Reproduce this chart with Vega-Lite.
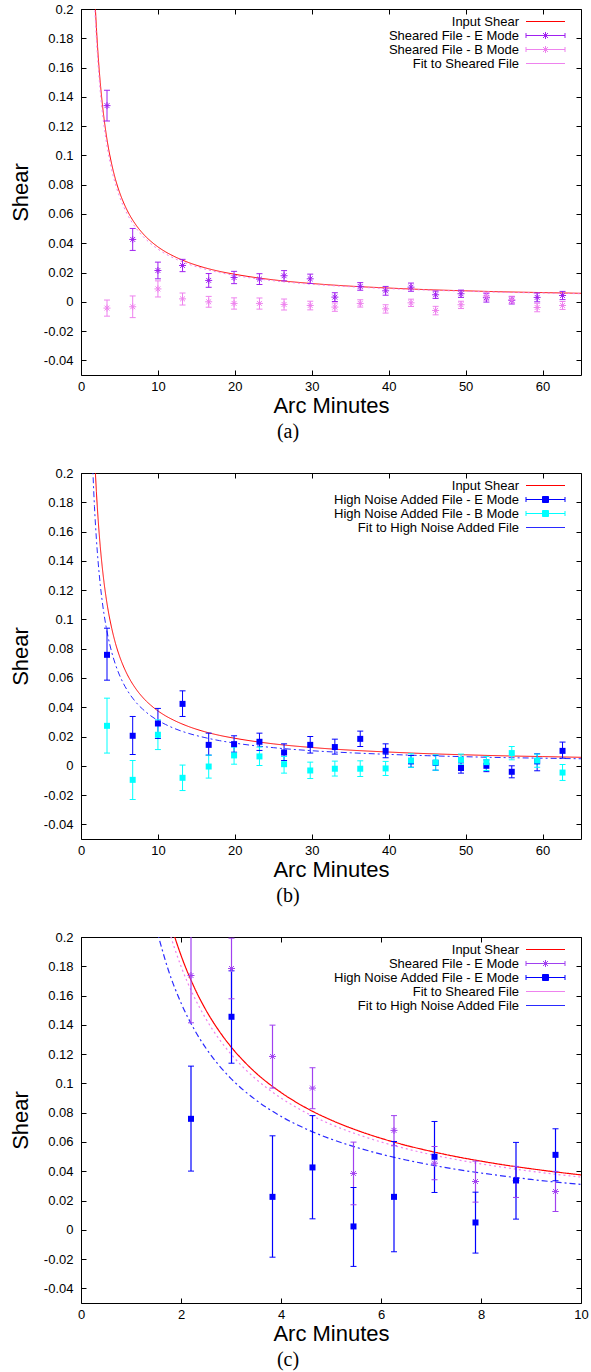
{
"$schema": "https://vega.github.io/schema/vega-lite/v6.json",
"padding": {"left": 8, "top": 2, "right": 5, "bottom": 5},
"spacing": 98,
"bounds": "flush",
"config": {
 "font": "Liberation Sans",
 "view": {"stroke": "#000", "strokeWidth": 1},
 "axis": {"grid": false, "domain": false, "ticks": true, "tickSize": -5, "tickColor": "#000", "tickWidth": 1, "labelFont": "Liberation Sans", "labelFontSize": 13, "labelColor": "#000", "labelFlush": false, "labelOverlap": false, "titleFont": "Liberation Sans", "titleFontSize": 22, "titleFontWeight": "normal", "titleColor": "#000"},
 "title": {"font": "Liberation Serif", "fontSize": 20, "fontWeight": "normal", "color": "#000"}
},
"datasets": {
 "curves": [
  {"x":1.5,"Input Shear":0.25,"Fit to Sheared File":0.24,"Fit to High Noise Added File":0.2067},
  {"x":1.75,"Input Shear":0.2143,"Fit to Sheared File":0.2057,"Fit to High Noise Added File":0.1771},
  {"x":2,"Input Shear":0.1875,"Fit to Sheared File":0.18,"Fit to High Noise Added File":0.155},
  {"x":2.25,"Input Shear":0.1667,"Fit to Sheared File":0.16,"Fit to High Noise Added File":0.1378},
  {"x":2.5,"Input Shear":0.15,"Fit to Sheared File":0.144,"Fit to High Noise Added File":0.124},
  {"x":2.75,"Input Shear":0.1364,"Fit to Sheared File":0.1309,"Fit to High Noise Added File":0.1127},
  {"x":3,"Input Shear":0.125,"Fit to Sheared File":0.12,"Fit to High Noise Added File":0.1033},
  {"x":3.25,"Input Shear":0.1154,"Fit to Sheared File":0.1108,"Fit to High Noise Added File":0.0954},
  {"x":3.5,"Input Shear":0.1071,"Fit to Sheared File":0.1029,"Fit to High Noise Added File":0.0886},
  {"x":4,"Input Shear":0.0938,"Fit to Sheared File":0.09,"Fit to High Noise Added File":0.0775},
  {"x":4.5,"Input Shear":0.0833,"Fit to Sheared File":0.08,"Fit to High Noise Added File":0.0689},
  {"x":5,"Input Shear":0.075,"Fit to Sheared File":0.072,"Fit to High Noise Added File":0.062},
  {"x":5.5,"Input Shear":0.0682,"Fit to Sheared File":0.0655,"Fit to High Noise Added File":0.0564},
  {"x":6,"Input Shear":0.0625,"Fit to Sheared File":0.06,"Fit to High Noise Added File":0.0517},
  {"x":6.5,"Input Shear":0.0577,"Fit to Sheared File":0.0554,"Fit to High Noise Added File":0.0477},
  {"x":7,"Input Shear":0.0536,"Fit to Sheared File":0.0514,"Fit to High Noise Added File":0.0443},
  {"x":7.5,"Input Shear":0.05,"Fit to Sheared File":0.048,"Fit to High Noise Added File":0.0413},
  {"x":8,"Input Shear":0.0469,"Fit to Sheared File":0.045,"Fit to High Noise Added File":0.0388},
  {"x":8.5,"Input Shear":0.0441,"Fit to Sheared File":0.0424,"Fit to High Noise Added File":0.0365},
  {"x":9,"Input Shear":0.0417,"Fit to Sheared File":0.04,"Fit to High Noise Added File":0.0344},
  {"x":9.5,"Input Shear":0.0395,"Fit to Sheared File":0.0379,"Fit to High Noise Added File":0.0326},
  {"x":10,"Input Shear":0.0375,"Fit to Sheared File":0.036,"Fit to High Noise Added File":0.031},
  {"x":11,"Input Shear":0.0341,"Fit to Sheared File":0.0327,"Fit to High Noise Added File":0.0282},
  {"x":12,"Input Shear":0.0313,"Fit to Sheared File":0.03,"Fit to High Noise Added File":0.0258},
  {"x":14,"Input Shear":0.0268,"Fit to Sheared File":0.0257,"Fit to High Noise Added File":0.0221},
  {"x":16,"Input Shear":0.0234,"Fit to Sheared File":0.0225,"Fit to High Noise Added File":0.0194},
  {"x":18,"Input Shear":0.0208,"Fit to Sheared File":0.02,"Fit to High Noise Added File":0.0172},
  {"x":20,"Input Shear":0.0188,"Fit to Sheared File":0.018,"Fit to High Noise Added File":0.0155},
  {"x":25,"Input Shear":0.015,"Fit to Sheared File":0.0144,"Fit to High Noise Added File":0.0124},
  {"x":30,"Input Shear":0.0125,"Fit to Sheared File":0.012,"Fit to High Noise Added File":0.0103},
  {"x":35,"Input Shear":0.0107,"Fit to Sheared File":0.0103,"Fit to High Noise Added File":0.0089},
  {"x":40,"Input Shear":0.0094,"Fit to Sheared File":0.009,"Fit to High Noise Added File":0.0078},
  {"x":45,"Input Shear":0.0083,"Fit to Sheared File":0.008,"Fit to High Noise Added File":0.0069},
  {"x":50,"Input Shear":0.0075,"Fit to Sheared File":0.0072,"Fit to High Noise Added File":0.0062},
  {"x":55,"Input Shear":0.0068,"Fit to Sheared File":0.0065,"Fit to High Noise Added File":0.0056},
  {"x":60,"Input Shear":0.0063,"Fit to Sheared File":0.006,"Fit to High Noise Added File":0.0052},
  {"x":65,"Input Shear":0.0058,"Fit to Sheared File":0.0055,"Fit to High Noise Added File":0.0048}
 ],
 "pts": [
  {"p":"a","s":"Sheared File - E Mode","x":3.38,"y":0.134,"lo":0.1235,"hi":0.1445},
  {"p":"a","s":"Sheared File - E Mode","x":6.72,"y":0.0426,"lo":0.0351,"hi":0.0501},
  {"p":"a","s":"Sheared File - E Mode","x":10.0,"y":0.0214,"lo":0.0157,"hi":0.0271},
  {"p":"a","s":"Sheared File - E Mode","x":13.2,"y":0.0248,"lo":0.0206,"hi":0.029},
  {"p":"a","s":"Sheared File - E Mode","x":16.6,"y":0.0146,"lo":0.0099,"hi":0.0193},
  {"p":"a","s":"Sheared File - E Mode","x":19.9,"y":0.0166,"lo":0.0124,"hi":0.0208},
  {"p":"a","s":"Sheared File - E Mode","x":23.2,"y":0.0155,"lo":0.0118,"hi":0.0192},
  {"p":"a","s":"Sheared File - E Mode","x":26.4,"y":0.0178,"lo":0.0143,"hi":0.0213},
  {"p":"a","s":"Sheared File - E Mode","x":29.8,"y":0.0157,"lo":0.0125,"hi":0.0189},
  {"p":"a","s":"Sheared File - E Mode","x":33.0,"y":0.0032,"lo":0.0002,"hi":0.0062},
  {"p":"a","s":"Sheared File - E Mode","x":36.3,"y":0.0105,"lo":0.0079,"hi":0.0131},
  {"p":"a","s":"Sheared File - E Mode","x":39.6,"y":0.0075,"lo":0.0045,"hi":0.0105},
  {"p":"a","s":"Sheared File - E Mode","x":42.9,"y":0.01,"lo":0.0072,"hi":0.0128},
  {"p":"a","s":"Sheared File - E Mode","x":46.1,"y":0.0048,"lo":0.0023,"hi":0.0073},
  {"p":"a","s":"Sheared File - E Mode","x":49.4,"y":0.0055,"lo":0.003,"hi":0.008},
  {"p":"a","s":"Sheared File - E Mode","x":52.7,"y":0.0028,"lo":-0.0002,"hi":0.0058},
  {"p":"a","s":"Sheared File - E Mode","x":56.0,"y":0.001,"lo":-0.0015,"hi":0.0035},
  {"p":"a","s":"Sheared File - E Mode","x":59.3,"y":0.003,"lo":0.0,"hi":0.006},
  {"p":"a","s":"Sheared File - E Mode","x":62.6,"y":0.0043,"lo":0.0015,"hi":0.0071},
  {"p":"a","s":"Sheared File - B Mode","x":3.38,"y":-0.0043,"lo":-0.0098,"hi":0.0012},
  {"p":"a","s":"Sheared File - B Mode","x":6.72,"y":-0.0034,"lo":-0.0108,"hi":0.004},
  {"p":"a","s":"Sheared File - B Mode","x":10.0,"y":0.0088,"lo":0.0033,"hi":0.0143},
  {"p":"a","s":"Sheared File - B Mode","x":13.2,"y":0.002,"lo":-0.0022,"hi":0.006},
  {"p":"a","s":"Sheared File - B Mode","x":16.6,"y":0.0,"lo":-0.0037,"hi":0.0037},
  {"p":"a","s":"Sheared File - B Mode","x":19.9,"y":-0.0011,"lo":-0.005,"hi":0.0027},
  {"p":"a","s":"Sheared File - B Mode","x":23.2,"y":-0.0011,"lo":-0.005,"hi":0.0026},
  {"p":"a","s":"Sheared File - B Mode","x":26.4,"y":-0.0018,"lo":-0.0056,"hi":0.0019},
  {"p":"a","s":"Sheared File - B Mode","x":29.8,"y":-0.0025,"lo":-0.0055,"hi":0.0004},
  {"p":"a","s":"Sheared File - B Mode","x":33.0,"y":-0.0036,"lo":-0.0065,"hi":-0.0008},
  {"p":"a","s":"Sheared File - B Mode","x":36.3,"y":-0.0011,"lo":-0.0036,"hi":0.0014},
  {"p":"a","s":"Sheared File - B Mode","x":39.6,"y":-0.0048,"lo":-0.0077,"hi":-0.002},
  {"p":"a","s":"Sheared File - B Mode","x":42.9,"y":-0.0007,"lo":-0.0032,"hi":0.0018},
  {"p":"a","s":"Sheared File - B Mode","x":46.1,"y":-0.0059,"lo":-0.0089,"hi":-0.0031},
  {"p":"a","s":"Sheared File - B Mode","x":49.4,"y":-0.002,"lo":-0.0046,"hi":0.0004},
  {"p":"a","s":"Sheared File - B Mode","x":52.7,"y":0.004,"lo":0.0012,"hi":0.0066},
  {"p":"a","s":"Sheared File - B Mode","x":56.0,"y":0.0014,"lo":-0.001,"hi":0.0038},
  {"p":"a","s":"Sheared File - B Mode","x":59.3,"y":-0.0039,"lo":-0.0068,"hi":-0.001},
  {"p":"a","s":"Sheared File - B Mode","x":62.6,"y":-0.0025,"lo":-0.0052,"hi":0.0002},
  {"p":"b","s":"High Noise Added File - E Mode","x":3.38,"y":0.0758,"lo":0.0585,"hi":0.094},
  {"p":"b","s":"High Noise Added File - E Mode","x":6.72,"y":0.0205,"lo":0.0077,"hi":0.0337},
  {"p":"b","s":"High Noise Added File - E Mode","x":10.0,"y":0.0289,"lo":0.0187,"hi":0.0392},
  {"p":"b","s":"High Noise Added File - E Mode","x":13.2,"y":0.0423,"lo":0.0337,"hi":0.0512},
  {"p":"b","s":"High Noise Added File - E Mode","x":16.6,"y":0.0143,"lo":0.0073,"hi":0.0223},
  {"p":"b","s":"High Noise Added File - E Mode","x":19.9,"y":0.0148,"lo":0.0093,"hi":0.0205},
  {"p":"b","s":"High Noise Added File - E Mode","x":23.2,"y":0.0164,"lo":0.0105,"hi":0.0223},
  {"p":"b","s":"High Noise Added File - E Mode","x":26.4,"y":0.0091,"lo":0.0036,"hi":0.015},
  {"p":"b","s":"High Noise Added File - E Mode","x":29.8,"y":0.0143,"lo":0.0087,"hi":0.02},
  {"p":"b","s":"High Noise Added File - E Mode","x":33.0,"y":0.0128,"lo":0.008,"hi":0.0182},
  {"p":"b","s":"High Noise Added File - E Mode","x":36.3,"y":0.0184,"lo":0.0132,"hi":0.0237},
  {"p":"b","s":"High Noise Added File - E Mode","x":39.6,"y":0.0102,"lo":0.0055,"hi":0.015},
  {"p":"b","s":"High Noise Added File - E Mode","x":42.9,"y":0.003,"lo":-0.001,"hi":0.007},
  {"p":"b","s":"High Noise Added File - E Mode","x":46.1,"y":0.002,"lo":-0.003,"hi":0.007},
  {"p":"b","s":"High Noise Added File - E Mode","x":49.4,"y":-0.0015,"lo":-0.005,"hi":0.002},
  {"p":"b","s":"High Noise Added File - E Mode","x":52.7,"y":0.0,"lo":-0.004,"hi":0.004},
  {"p":"b","s":"High Noise Added File - E Mode","x":56.0,"y":-0.0041,"lo":-0.0082,"hi":0.0},
  {"p":"b","s":"High Noise Added File - E Mode","x":59.3,"y":0.003,"lo":-0.0034,"hi":0.0082},
  {"p":"b","s":"High Noise Added File - E Mode","x":62.6,"y":0.0102,"lo":0.0052,"hi":0.0162},
  {"p":"b","s":"High Noise Added File - B Mode","x":3.38,"y":0.0273,"lo":0.0087,"hi":0.0462},
  {"p":"b","s":"High Noise Added File - B Mode","x":6.72,"y":-0.0096,"lo":-0.023,"hi":0.0036},
  {"p":"b","s":"High Noise Added File - B Mode","x":10.0,"y":0.0212,"lo":0.0111,"hi":0.0314},
  {"p":"b","s":"High Noise Added File - B Mode","x":13.2,"y":-0.0082,"lo":-0.0169,"hi":0.0005},
  {"p":"b","s":"High Noise Added File - B Mode","x":16.6,"y":-0.0005,"lo":-0.0084,"hi":0.0073},
  {"p":"b","s":"High Noise Added File - B Mode","x":19.9,"y":0.0071,"lo":0.0011,"hi":0.0128},
  {"p":"b","s":"High Noise Added File - B Mode","x":23.2,"y":0.0064,"lo":0.0002,"hi":0.0128},
  {"p":"b","s":"High Noise Added File - B Mode","x":26.4,"y":0.0011,"lo":-0.005,"hi":0.0064},
  {"p":"b","s":"High Noise Added File - B Mode","x":29.8,"y":-0.0032,"lo":-0.0087,"hi":0.0025},
  {"p":"b","s":"High Noise Added File - B Mode","x":33.0,"y":-0.002,"lo":-0.007,"hi":0.0032},
  {"p":"b","s":"High Noise Added File - B Mode","x":36.3,"y":-0.002,"lo":-0.0073,"hi":0.0034},
  {"p":"b","s":"High Noise Added File - B Mode","x":39.6,"y":-0.0018,"lo":-0.0066,"hi":0.003},
  {"p":"b","s":"High Noise Added File - B Mode","x":42.9,"y":0.0036,"lo":-0.0011,"hi":0.0082},
  {"p":"b","s":"High Noise Added File - B Mode","x":46.1,"y":0.0023,"lo":-0.003,"hi":0.0075},
  {"p":"b","s":"High Noise Added File - B Mode","x":49.4,"y":0.0041,"lo":0.0007,"hi":0.008},
  {"p":"b","s":"High Noise Added File - B Mode","x":52.7,"y":0.0025,"lo":-0.0032,"hi":0.0064},
  {"p":"b","s":"High Noise Added File - B Mode","x":56.0,"y":0.0087,"lo":0.0041,"hi":0.0132},
  {"p":"b","s":"High Noise Added File - B Mode","x":59.3,"y":0.0036,"lo":-0.001,"hi":0.008},
  {"p":"b","s":"High Noise Added File - B Mode","x":62.6,"y":-0.0046,"lo":-0.01,"hi":0.0009},
  {"p":"c","s":"Sheared File - E Mode","x":2.2,"y":0.1737,"lo":0.1414,"hi":0.206},
  {"p":"c","s":"Sheared File - E Mode","x":3.01,"y":0.1785,"lo":0.1578,"hi":0.1992},
  {"p":"c","s":"Sheared File - E Mode","x":3.83,"y":0.1184,"lo":0.0968,"hi":0.1398},
  {"p":"c","s":"Sheared File - E Mode","x":4.63,"y":0.0968,"lo":0.0827,"hi":0.1107},
  {"p":"c","s":"Sheared File - E Mode","x":5.45,"y":0.0385,"lo":0.0171,"hi":0.0599},
  {"p":"c","s":"Sheared File - E Mode","x":6.26,"y":0.0679,"lo":0.0574,"hi":0.078},
  {"p":"c","s":"Sheared File - E Mode","x":7.07,"y":0.0455,"lo":0.0342,"hi":0.0569},
  {"p":"c","s":"Sheared File - E Mode","x":7.89,"y":0.033,"lo":0.0189,"hi":0.0469},
  {"p":"c","s":"Sheared File - E Mode","x":8.7,"y":0.0335,"lo":0.0221,"hi":0.0433},
  {"p":"c","s":"Sheared File - E Mode","x":9.49,"y":0.0262,"lo":0.0125,"hi":0.0399},
  {"p":"c","s":"High Noise Added File - E Mode","x":2.2,"y":0.0758,"lo":0.0401,"hi":0.1118},
  {"p":"c","s":"High Noise Added File - E Mode","x":3.01,"y":0.1455,"lo":0.1138,"hi":0.1769},
  {"p":"c","s":"High Noise Added File - E Mode","x":3.83,"y":0.0225,"lo":-0.0187,"hi":0.0642},
  {"p":"c","s":"High Noise Added File - E Mode","x":4.63,"y":0.0426,"lo":0.0075,"hi":0.078},
  {"p":"c","s":"High Noise Added File - E Mode","x":5.45,"y":0.0023,"lo":-0.025,"hi":0.0289},
  {"p":"c","s":"High Noise Added File - E Mode","x":6.26,"y":0.0225,"lo":-0.015,"hi":0.0603},
  {"p":"c","s":"High Noise Added File - E Mode","x":7.07,"y":0.0499,"lo":0.0255,"hi":0.074},
  {"p":"c","s":"High Noise Added File - E Mode","x":7.89,"y":0.005,"lo":-0.0159,"hi":0.0257},
  {"p":"c","s":"High Noise Added File - E Mode","x":8.7,"y":0.0337,"lo":0.0073,"hi":0.0597},
  {"p":"c","s":"High Noise Added File - E Mode","x":9.49,"y":0.0512,"lo":0.0335,"hi":0.069}
 ]
},
"resolve": {"scale": {"x": "independent", "y": "independent", "color": "independent", "shape": "independent", "strokeDash": "independent", "stroke": "independent", "fill": "independent"}, "legend": {"shape": "independent", "color": "independent", "stroke": "independent", "fill": "independent", "strokeDash": "independent"}},
"vconcat": [
 {
  "width": 500, "height": 366,
  "title": {"text": "(a)", "orient": "bottom", "dx": -43, "offset": 6, "anchor": "middle"},
  "layer": [
   {"mark": {"type": "rule", "color": "#000", "strokeWidth": 1}, "encoding": {"y": {"datum": 0, "type": "quantitative", "scale": {"domain": [-0.05, 0.2], "nice": false, "zero": false}, "axis": null}}},
   {"data": {"name": "curves"}, "transform": [{"fold": ["Input Shear", "Fit to Sheared File"], "as": ["s", "y"]}],
    "mark": {"type": "line", "clip": true, "strokeWidth": 1, "interpolate": "monotone"},
    "encoding": {
     "x": {"field": "x", "type": "quantitative", "scale": {"domain": [0, 65], "nice": false, "zero": false}, "axis": {"orient": "bottom", "values": [0, 10, 20, 30, 40, 50, 60], "format": "d", "title": "Arc Minutes", "labelPadding": 10, "titlePadding": 2}},
     "y": {"field": "y", "type": "quantitative", "scale": {"domain": [-0.05, 0.2], "nice": false, "zero": false}, "axis": {"orient": "left", "values": [-0.04, -0.02, 0, 0.02, 0.04, 0.06, 0.08, 0.1, 0.12, 0.14, 0.16, 0.18, 0.2], "labelExpr": "replace(format(datum.value, '.2~f'), '\u2212', '-')", "title": "Shear", "labelPadding": 13, "titlePadding": 11}},
     "color": {"field": "s", "type": "nominal", "scale": {"domain": ["Input Shear", "Sheared File - E Mode", "Sheared File - B Mode", "Fit to Sheared File"], "range": ["#ff0000", "#a020f0", "#ee82ee", "#ee82ee"]}, "legend": null},
     "strokeDash": {"field": "s", "type": "nominal", "scale": {"domain": ["Input Shear", "Fit to Sheared File"], "range": [[1, 0], [2, 3]]}, "legend": null}
    }},
   {"data": {"name": "pts"}, "transform": [{"filter": "datum.p === 'a'"}],
    "mark": {"type": "rule", "clip": true, "strokeWidth": 1},
    "encoding": {
     "x": {"field": "x", "type": "quantitative", "axis": {"orient": "top", "values": [0, 10, 20, 30, 40, 50, 60], "labels": false, "title": null}},
     "y": {"field": "lo", "type": "quantitative", "axis": {"orient": "right", "values": [-0.04, -0.02, 0, 0.02, 0.04, 0.06, 0.08, 0.1, 0.12, 0.14, 0.16, 0.18, 0.2], "labels": false, "title": null}},
     "y2": {"field": "hi"},
     "color": {"field": "s", "type": "nominal", "scale": {"domain": ["Input Shear", "Sheared File - E Mode", "Sheared File - B Mode", "Fit to Sheared File"], "range": ["#ff0000", "#a020f0", "#ee82ee", "#ee82ee"]}, "legend": null}
    }},
   {"data": {"name": "pts"}, "transform": [{"filter": "datum.p === 'a'"}],
    "mark": {"type": "tick", "orient": "horizontal", "size": 6, "thickness": 1, "opacity": 1, "clip": true},
    "encoding": {
     "x": {"field": "x", "type": "quantitative", "axis": null},
     "y": {"field": "lo", "type": "quantitative", "axis": null},
     "color": {"field": "s", "type": "nominal", "scale": {"domain": ["Input Shear", "Sheared File - E Mode", "Sheared File - B Mode", "Fit to Sheared File"], "range": ["#ff0000", "#a020f0", "#ee82ee", "#ee82ee"]}, "legend": null}
    }},
   {"data": {"name": "pts"}, "transform": [{"filter": "datum.p === 'a'"}],
    "mark": {"type": "tick", "orient": "horizontal", "size": 6, "thickness": 1, "opacity": 1, "clip": true},
    "encoding": {
     "x": {"field": "x", "type": "quantitative", "axis": null},
     "y": {"field": "hi", "type": "quantitative", "axis": null},
     "color": {"field": "s", "type": "nominal", "scale": {"domain": ["Input Shear", "Sheared File - E Mode", "Sheared File - B Mode", "Fit to Sheared File"], "range": ["#ff0000", "#a020f0", "#ee82ee", "#ee82ee"]}, "legend": null}
    }},
   {"data": {"name": "pts"}, "transform": [{"filter": "datum.p === 'a'"}],
    "mark": {"type": "point", "shape": "M-1,0L1,0M0,-1L0,1M-0.7,-0.7L0.7,0.7M-0.7,0.7L0.7,-0.7", "size": 49, "filled": false, "strokeWidth": 1, "opacity": 1, "clip": true},
    "encoding": {
     "x": {"field": "x", "type": "quantitative", "axis": null},
     "y": {"field": "y", "type": "quantitative", "axis": null},
     "color": {"field": "s", "type": "nominal", "scale": {"domain": ["Input Shear", "Sheared File - E Mode", "Sheared File - B Mode", "Fit to Sheared File"], "range": ["#ff0000", "#a020f0", "#ee82ee", "#ee82ee"]}, "legend": null}
    }},
   {"data": {"values": [{"k": "a1"}, {"k": "a2"}, {"k": "a3"}, {"k": "a4"}]},
    "mark": {"type": "point", "filled": false, "opacity": 0, "size": 100},
    "encoding": {
     "shape": {"field": "k", "type": "nominal", "scale": {"domain": ["a1", "a2", "a3", "a4"], "range": ["M-3.9,0L3.9,0M5.5,0", "M-3.9,0L3.9,0M-3.9,-0.5L-3.9,0.5M3.9,-0.5L3.9,0.5M-0.7,0L0.7,0M0,-0.7L0,0.7M-0.5,-0.5L0.5,0.5M-0.5,0.5L0.5,-0.5M5.5,0", "M-3.9,0L3.9,0M-3.9,-0.5L-3.9,0.5M3.9,-0.5L3.9,0.5M-0.7,0L0.7,0M0,-0.7L0,0.7M-0.5,-0.5L0.5,0.5M-0.5,0.5L0.5,-0.5M5.5,0", "M-3.9,0L3.9,0M5.5,0"]},
      "legend": {"title": null, "orient": "top-right", "offset": 6, "padding": 0, "rowPadding": 0, "labelAlign": "right", "labelOffset": -33, "labelFontSize": 13, "labelFont": "Liberation Sans", "labelColor": "#000", "labelLimit": 500, "symbolSize": 100, "symbolStrokeWidth": 1, "symbolOpacity": 1,
       "labelExpr": "datum.label === 'a1' ? 'Input Shear' : datum.label === 'a2' ? 'Sheared File - E Mode' : datum.label === 'a3' ? 'Sheared File - B Mode' : 'Fit to Sheared File'"}},
     "stroke": {"field": "k", "type": "nominal", "scale": {"domain": ["a1", "a2", "a3", "a4"], "range": ["#ff0000", "#a020f0", "#ee82ee", "#ee82ee"]},
      "legend": {"title": null, "orient": "top-right", "offset": 6, "padding": 0, "rowPadding": 0, "labelAlign": "right", "labelOffset": -33, "labelFontSize": 13, "labelFont": "Liberation Sans", "labelColor": "#000", "labelLimit": 500, "symbolSize": 100, "symbolStrokeWidth": 1, "symbolOpacity": 1,
       "labelExpr": "datum.label === 'a1' ? 'Input Shear' : datum.label === 'a2' ? 'Sheared File - E Mode' : datum.label === 'a3' ? 'Sheared File - B Mode' : 'Fit to Sheared File'"}},
     "strokeDash": {"field": "k", "type": "nominal", "scale": {"domain": ["a1", "a2", "a3", "a4"], "range": [[1, 0], [1, 0], [1, 0], [2, 3]]},
      "legend": {"title": null, "orient": "top-right", "offset": 6, "padding": 0, "rowPadding": 0, "labelAlign": "right", "labelOffset": -33, "labelFontSize": 13, "labelFont": "Liberation Sans", "labelColor": "#000", "labelLimit": 500, "symbolSize": 100, "symbolStrokeWidth": 1, "symbolOpacity": 1,
       "labelExpr": "datum.label === 'a1' ? 'Input Shear' : datum.label === 'a2' ? 'Sheared File - E Mode' : datum.label === 'a3' ? 'Sheared File - B Mode' : 'Fit to Sheared File'"}}
    }}
  ]
 },
 {
  "width": 500, "height": 366,
  "title": {"text": "(b)", "orient": "bottom", "dx": -43, "offset": 6, "anchor": "middle"},
  "layer": [
   {"mark": {"type": "rule", "color": "#000", "strokeWidth": 1}, "encoding": {"y": {"datum": 0, "type": "quantitative", "scale": {"domain": [-0.05, 0.2], "nice": false, "zero": false}, "axis": null}}},
   {"data": {"name": "curves"}, "transform": [{"fold": ["Input Shear", "Fit to High Noise Added File"], "as": ["s", "y"]}],
    "mark": {"type": "line", "clip": true, "strokeWidth": 1, "interpolate": "monotone"},
    "encoding": {
     "x": {"field": "x", "type": "quantitative", "scale": {"domain": [0, 65], "nice": false, "zero": false}, "axis": {"orient": "bottom", "values": [0, 10, 20, 30, 40, 50, 60], "format": "d", "title": "Arc Minutes", "labelPadding": 10, "titlePadding": 2}},
     "y": {"field": "y", "type": "quantitative", "scale": {"domain": [-0.05, 0.2], "nice": false, "zero": false}, "axis": {"orient": "left", "values": [-0.04, -0.02, 0, 0.02, 0.04, 0.06, 0.08, 0.1, 0.12, 0.14, 0.16, 0.18, 0.2], "labelExpr": "replace(format(datum.value, '.2~f'), '\u2212', '-')", "title": "Shear", "labelPadding": 13, "titlePadding": 11}},
     "color": {"field": "s", "type": "nominal", "scale": {"domain": ["Input Shear", "High Noise Added File - E Mode", "High Noise Added File - B Mode", "Fit to High Noise Added File"], "range": ["#ff0000", "#0000ff", "#00ffff", "#2a2aff"]}, "legend": null},
     "strokeDash": {"field": "s", "type": "nominal", "scale": {"domain": ["Input Shear", "Fit to High Noise Added File"], "range": [[1, 0], [6, 3, 2, 3]]}, "legend": null}
    }},
   {"data": {"name": "pts"}, "transform": [{"filter": "datum.p === 'b'"}],
    "mark": {"type": "rule", "clip": true, "strokeWidth": 1},
    "encoding": {
     "x": {"field": "x", "type": "quantitative", "axis": {"orient": "top", "values": [0, 10, 20, 30, 40, 50, 60], "labels": false, "title": null}},
     "y": {"field": "lo", "type": "quantitative", "axis": {"orient": "right", "values": [-0.04, -0.02, 0, 0.02, 0.04, 0.06, 0.08, 0.1, 0.12, 0.14, 0.16, 0.18, 0.2], "labels": false, "title": null}},
     "y2": {"field": "hi"},
     "color": {"field": "s", "type": "nominal", "scale": {"domain": ["Input Shear", "High Noise Added File - E Mode", "High Noise Added File - B Mode", "Fit to High Noise Added File"], "range": ["#ff0000", "#0000ff", "#00ffff", "#2a2aff"]}, "legend": null}
    }},
   {"data": {"name": "pts"}, "transform": [{"filter": "datum.p === 'b'"}],
    "mark": {"type": "tick", "orient": "horizontal", "size": 6, "thickness": 1, "opacity": 1, "clip": true},
    "encoding": {
     "x": {"field": "x", "type": "quantitative", "axis": null},
     "y": {"field": "lo", "type": "quantitative", "axis": null},
     "color": {"field": "s", "type": "nominal", "scale": {"domain": ["Input Shear", "High Noise Added File - E Mode", "High Noise Added File - B Mode", "Fit to High Noise Added File"], "range": ["#ff0000", "#0000ff", "#00ffff", "#2a2aff"]}, "legend": null}
    }},
   {"data": {"name": "pts"}, "transform": [{"filter": "datum.p === 'b'"}],
    "mark": {"type": "tick", "orient": "horizontal", "size": 6, "thickness": 1, "opacity": 1, "clip": true},
    "encoding": {
     "x": {"field": "x", "type": "quantitative", "axis": null},
     "y": {"field": "hi", "type": "quantitative", "axis": null},
     "color": {"field": "s", "type": "nominal", "scale": {"domain": ["Input Shear", "High Noise Added File - E Mode", "High Noise Added File - B Mode", "Fit to High Noise Added File"], "range": ["#ff0000", "#0000ff", "#00ffff", "#2a2aff"]}, "legend": null}
    }},
   {"data": {"name": "pts"}, "transform": [{"filter": "datum.p === 'b'"}],
    "mark": {"type": "square", "size": 36, "opacity": 1, "clip": true},
    "encoding": {
     "x": {"field": "x", "type": "quantitative", "axis": null},
     "y": {"field": "y", "type": "quantitative", "axis": null},
     "color": {"field": "s", "type": "nominal", "scale": {"domain": ["Input Shear", "High Noise Added File - E Mode", "High Noise Added File - B Mode", "Fit to High Noise Added File"], "range": ["#ff0000", "#0000ff", "#00ffff", "#2a2aff"]}, "legend": null}
    }},
   {"data": {"values": [{"k": "b1"}, {"k": "b2"}, {"k": "b3"}, {"k": "b4"}]},
    "mark": {"type": "point", "filled": false, "opacity": 0, "size": 100},
    "encoding": {
     "shape": {"field": "k", "type": "nominal", "scale": {"domain": ["b1", "b2", "b3", "b4"], "range": ["M-3.9,0L3.9,0M5.5,0", "M-3.9,0L3.9,0M-3.9,-0.5L-3.9,0.5M3.9,-0.5L3.9,0.5M-0.6,-0.6L0.6,-0.6L0.6,0.6L-0.6,0.6ZM5.5,0", "M-3.9,0L3.9,0M-3.9,-0.5L-3.9,0.5M3.9,-0.5L3.9,0.5M-0.6,-0.6L0.6,-0.6L0.6,0.6L-0.6,0.6ZM5.5,0", "M-3.9,0L3.9,0M5.5,0"]},
      "legend": {"title": null, "orient": "top-right", "offset": 6, "padding": 0, "rowPadding": 0, "labelAlign": "right", "labelOffset": -33, "labelFontSize": 13, "labelFont": "Liberation Sans", "labelColor": "#000", "labelLimit": 500, "symbolSize": 100, "symbolStrokeWidth": 1, "symbolOpacity": 1,
       "labelExpr": "datum.label === 'b1' ? 'Input Shear' : datum.label === 'b2' ? 'High Noise Added File - E Mode' : datum.label === 'b3' ? 'High Noise Added File - B Mode' : 'Fit to High Noise Added File'"}},
     "stroke": {"field": "k", "type": "nominal", "scale": {"domain": ["b1", "b2", "b3", "b4"], "range": ["#ff0000", "#0000ff", "#00ffff", "#2a2aff"]},
      "legend": {"title": null, "orient": "top-right", "offset": 6, "padding": 0, "rowPadding": 0, "labelAlign": "right", "labelOffset": -33, "labelFontSize": 13, "labelFont": "Liberation Sans", "labelColor": "#000", "labelLimit": 500, "symbolSize": 100, "symbolStrokeWidth": 1, "symbolOpacity": 1,
       "labelExpr": "datum.label === 'b1' ? 'Input Shear' : datum.label === 'b2' ? 'High Noise Added File - E Mode' : datum.label === 'b3' ? 'High Noise Added File - B Mode' : 'Fit to High Noise Added File'"}},
     "fill": {"field": "k", "type": "nominal", "scale": {"domain": ["b1", "b2", "b3", "b4"], "range": ["transparent", "#0000ff", "#00ffff", "transparent"]},
      "legend": {"title": null, "orient": "top-right", "offset": 6, "padding": 0, "rowPadding": 0, "labelAlign": "right", "labelOffset": -33, "labelFontSize": 13, "labelFont": "Liberation Sans", "labelColor": "#000", "labelLimit": 500, "symbolSize": 100, "symbolStrokeWidth": 1, "symbolOpacity": 1,
       "labelExpr": "datum.label === 'b1' ? 'Input Shear' : datum.label === 'b2' ? 'High Noise Added File - E Mode' : datum.label === 'b3' ? 'High Noise Added File - B Mode' : 'Fit to High Noise Added File'"}},
     "strokeDash": {"field": "k", "type": "nominal", "scale": {"domain": ["b1", "b2", "b3", "b4"], "range": [[1, 0], [1, 0], [1, 0], [6, 3, 2, 3]]},
      "legend": {"title": null, "orient": "top-right", "offset": 6, "padding": 0, "rowPadding": 0, "labelAlign": "right", "labelOffset": -33, "labelFontSize": 13, "labelFont": "Liberation Sans", "labelColor": "#000", "labelLimit": 500, "symbolSize": 100, "symbolStrokeWidth": 1, "symbolOpacity": 1,
       "labelExpr": "datum.label === 'b1' ? 'Input Shear' : datum.label === 'b2' ? 'High Noise Added File - E Mode' : datum.label === 'b3' ? 'High Noise Added File - B Mode' : 'Fit to High Noise Added File'"}}
    }}
  ]
 },
 {
  "width": 500, "height": 366,
  "title": {"text": "(c)", "orient": "bottom", "dx": -43, "offset": 6, "anchor": "middle"},
  "layer": [
   {"mark": {"type": "rule", "color": "#000", "strokeWidth": 1}, "encoding": {"y": {"datum": 0, "type": "quantitative", "scale": {"domain": [-0.05, 0.2], "nice": false, "zero": false}, "axis": null}}},
   {"data": {"name": "curves"}, "transform": [{"fold": ["Input Shear", "Fit to Sheared File", "Fit to High Noise Added File"], "as": ["s", "y"]}],
    "mark": {"type": "line", "clip": true, "strokeWidth": 1.2, "interpolate": "monotone"},
    "encoding": {
     "x": {"field": "x", "type": "quantitative", "scale": {"domain": [0, 10], "nice": false, "zero": false}, "axis": {"orient": "bottom", "values": [0, 2, 4, 6, 8, 10], "format": "d", "title": "Arc Minutes", "labelPadding": 10, "titlePadding": 2}},
     "y": {"field": "y", "type": "quantitative", "scale": {"domain": [-0.05, 0.2], "nice": false, "zero": false}, "axis": {"orient": "left", "values": [-0.04, -0.02, 0, 0.02, 0.04, 0.06, 0.08, 0.1, 0.12, 0.14, 0.16, 0.18, 0.2], "labelExpr": "replace(format(datum.value, '.2~f'), '\u2212', '-')", "title": "Shear", "labelPadding": 13, "titlePadding": 11}},
     "color": {"field": "s", "type": "nominal", "scale": {"domain": ["Input Shear", "Sheared File - E Mode", "High Noise Added File - E Mode", "Fit to Sheared File", "Fit to High Noise Added File"], "range": ["#ff0000", "#a040f0", "#0000ff", "#ee82ee", "#2a2aff"]}, "legend": null},
     "strokeDash": {"field": "s", "type": "nominal", "scale": {"domain": ["Input Shear", "Fit to Sheared File", "Fit to High Noise Added File"], "range": [[1, 0], [2, 3], [6, 3, 2, 3]]}, "legend": null}
    }},
   {"data": {"name": "pts"}, "transform": [{"filter": "datum.p === 'c'"}],
    "mark": {"type": "rule", "clip": true, "strokeWidth": 1.2},
    "encoding": {
     "x": {"field": "x", "type": "quantitative", "axis": {"orient": "top", "values": [0, 2, 4, 6, 8, 10], "labels": false, "title": null}},
     "y": {"field": "lo", "type": "quantitative", "axis": {"orient": "right", "values": [-0.04, -0.02, 0, 0.02, 0.04, 0.06, 0.08, 0.1, 0.12, 0.14, 0.16, 0.18, 0.2], "labels": false, "title": null}},
     "y2": {"field": "hi"},
     "color": {"field": "s", "type": "nominal", "scale": {"domain": ["Input Shear", "Sheared File - E Mode", "High Noise Added File - E Mode", "Fit to Sheared File", "Fit to High Noise Added File"], "range": ["#ff0000", "#a040f0", "#0000ff", "#ee82ee", "#2a2aff"]}, "legend": null}
    }},
   {"data": {"name": "pts"}, "transform": [{"filter": "datum.p === 'c'"}],
    "mark": {"type": "tick", "orient": "horizontal", "size": 6, "thickness": 1, "opacity": 1, "clip": true},
    "encoding": {
     "x": {"field": "x", "type": "quantitative", "axis": null},
     "y": {"field": "lo", "type": "quantitative", "axis": null},
     "color": {"field": "s", "type": "nominal", "scale": {"domain": ["Input Shear", "Sheared File - E Mode", "High Noise Added File - E Mode", "Fit to Sheared File", "Fit to High Noise Added File"], "range": ["#ff0000", "#a040f0", "#0000ff", "#ee82ee", "#2a2aff"]}, "legend": null}
    }},
   {"data": {"name": "pts"}, "transform": [{"filter": "datum.p === 'c'"}],
    "mark": {"type": "tick", "orient": "horizontal", "size": 6, "thickness": 1, "opacity": 1, "clip": true},
    "encoding": {
     "x": {"field": "x", "type": "quantitative", "axis": null},
     "y": {"field": "hi", "type": "quantitative", "axis": null},
     "color": {"field": "s", "type": "nominal", "scale": {"domain": ["Input Shear", "Sheared File - E Mode", "High Noise Added File - E Mode", "Fit to Sheared File", "Fit to High Noise Added File"], "range": ["#ff0000", "#a040f0", "#0000ff", "#ee82ee", "#2a2aff"]}, "legend": null}
    }},
   {"data": {"name": "pts"}, "transform": [{"filter": "datum.p === 'c' && datum.s === 'Sheared File - E Mode'"}],
    "mark": {"type": "point", "shape": "M-1,0L1,0M0,-1L0,1M-0.7,-0.7L0.7,0.7M-0.7,0.7L0.7,-0.7", "size": 49, "filled": false, "strokeWidth": 1, "opacity": 1, "clip": true},
    "encoding": {
     "x": {"field": "x", "type": "quantitative", "axis": null},
     "y": {"field": "y", "type": "quantitative", "axis": null},
     "color": {"field": "s", "type": "nominal", "scale": {"domain": ["Input Shear", "Sheared File - E Mode", "High Noise Added File - E Mode", "Fit to Sheared File", "Fit to High Noise Added File"], "range": ["#ff0000", "#a040f0", "#0000ff", "#ee82ee", "#2a2aff"]}, "legend": null}
    }},
   {"data": {"name": "pts"}, "transform": [{"filter": "datum.p === 'c' && datum.s === 'High Noise Added File - E Mode'"}],
    "mark": {"type": "square", "size": 36, "opacity": 1, "clip": true},
    "encoding": {
     "x": {"field": "x", "type": "quantitative", "axis": null},
     "y": {"field": "y", "type": "quantitative", "axis": null},
     "color": {"field": "s", "type": "nominal", "scale": {"domain": ["Input Shear", "Sheared File - E Mode", "High Noise Added File - E Mode", "Fit to Sheared File", "Fit to High Noise Added File"], "range": ["#ff0000", "#a040f0", "#0000ff", "#ee82ee", "#2a2aff"]}, "legend": null}
    }},
   {"data": {"values": [{"k": "c1"}, {"k": "c2"}, {"k": "c3"}, {"k": "c4"}, {"k": "c5"}]},
    "mark": {"type": "point", "filled": false, "opacity": 0, "size": 100},
    "encoding": {
     "shape": {"field": "k", "type": "nominal", "scale": {"domain": ["c1", "c2", "c3", "c4", "c5"], "range": ["M-3.9,0L3.9,0M5.5,0", "M-3.9,0L3.9,0M-3.9,-0.5L-3.9,0.5M3.9,-0.5L3.9,0.5M-0.7,0L0.7,0M0,-0.7L0,0.7M-0.5,-0.5L0.5,0.5M-0.5,0.5L0.5,-0.5M5.5,0", "M-3.9,0L3.9,0M-3.9,-0.5L-3.9,0.5M3.9,-0.5L3.9,0.5M-0.6,-0.6L0.6,-0.6L0.6,0.6L-0.6,0.6ZM5.5,0", "M-3.9,0L3.9,0M5.5,0", "M-3.9,0L3.9,0M5.5,0"]},
      "legend": {"title": null, "orient": "top-right", "offset": 6, "padding": 0, "rowPadding": 0, "labelAlign": "right", "labelOffset": -33, "labelFontSize": 13, "labelFont": "Liberation Sans", "labelColor": "#000", "labelLimit": 500, "symbolSize": 100, "symbolStrokeWidth": 1, "symbolOpacity": 1,
       "labelExpr": "datum.label === 'c1' ? 'Input Shear' : datum.label === 'c2' ? 'Sheared File - E Mode' : datum.label === 'c3' ? 'High Noise Added File - E Mode' : datum.label === 'c4' ? 'Fit to Sheared File' : 'Fit to High Noise Added File'"}},
     "stroke": {"field": "k", "type": "nominal", "scale": {"domain": ["c1", "c2", "c3", "c4", "c5"], "range": ["#ff0000", "#a040f0", "#0000ff", "#ee82ee", "#2a2aff"]},
      "legend": {"title": null, "orient": "top-right", "offset": 6, "padding": 0, "rowPadding": 0, "labelAlign": "right", "labelOffset": -33, "labelFontSize": 13, "labelFont": "Liberation Sans", "labelColor": "#000", "labelLimit": 500, "symbolSize": 100, "symbolStrokeWidth": 1, "symbolOpacity": 1,
       "labelExpr": "datum.label === 'c1' ? 'Input Shear' : datum.label === 'c2' ? 'Sheared File - E Mode' : datum.label === 'c3' ? 'High Noise Added File - E Mode' : datum.label === 'c4' ? 'Fit to Sheared File' : 'Fit to High Noise Added File'"}},
     "fill": {"field": "k", "type": "nominal", "scale": {"domain": ["c1", "c2", "c3", "c4", "c5"], "range": ["transparent", "transparent", "#0000ff", "transparent", "transparent"]},
      "legend": {"title": null, "orient": "top-right", "offset": 6, "padding": 0, "rowPadding": 0, "labelAlign": "right", "labelOffset": -33, "labelFontSize": 13, "labelFont": "Liberation Sans", "labelColor": "#000", "labelLimit": 500, "symbolSize": 100, "symbolStrokeWidth": 1, "symbolOpacity": 1,
       "labelExpr": "datum.label === 'c1' ? 'Input Shear' : datum.label === 'c2' ? 'Sheared File - E Mode' : datum.label === 'c3' ? 'High Noise Added File - E Mode' : datum.label === 'c4' ? 'Fit to Sheared File' : 'Fit to High Noise Added File'"}},
     "strokeDash": {"field": "k", "type": "nominal", "scale": {"domain": ["c1", "c2", "c3", "c4", "c5"], "range": [[1, 0], [1, 0], [1, 0], [2, 3], [6, 3, 2, 3]]},
      "legend": {"title": null, "orient": "top-right", "offset": 6, "padding": 0, "rowPadding": 0, "labelAlign": "right", "labelOffset": -33, "labelFontSize": 13, "labelFont": "Liberation Sans", "labelColor": "#000", "labelLimit": 500, "symbolSize": 100, "symbolStrokeWidth": 1, "symbolOpacity": 1,
       "labelExpr": "datum.label === 'c1' ? 'Input Shear' : datum.label === 'c2' ? 'Sheared File - E Mode' : datum.label === 'c3' ? 'High Noise Added File - E Mode' : datum.label === 'c4' ? 'Fit to Sheared File' : 'Fit to High Noise Added File'"}}
    }}
  ]
 }
]
}
